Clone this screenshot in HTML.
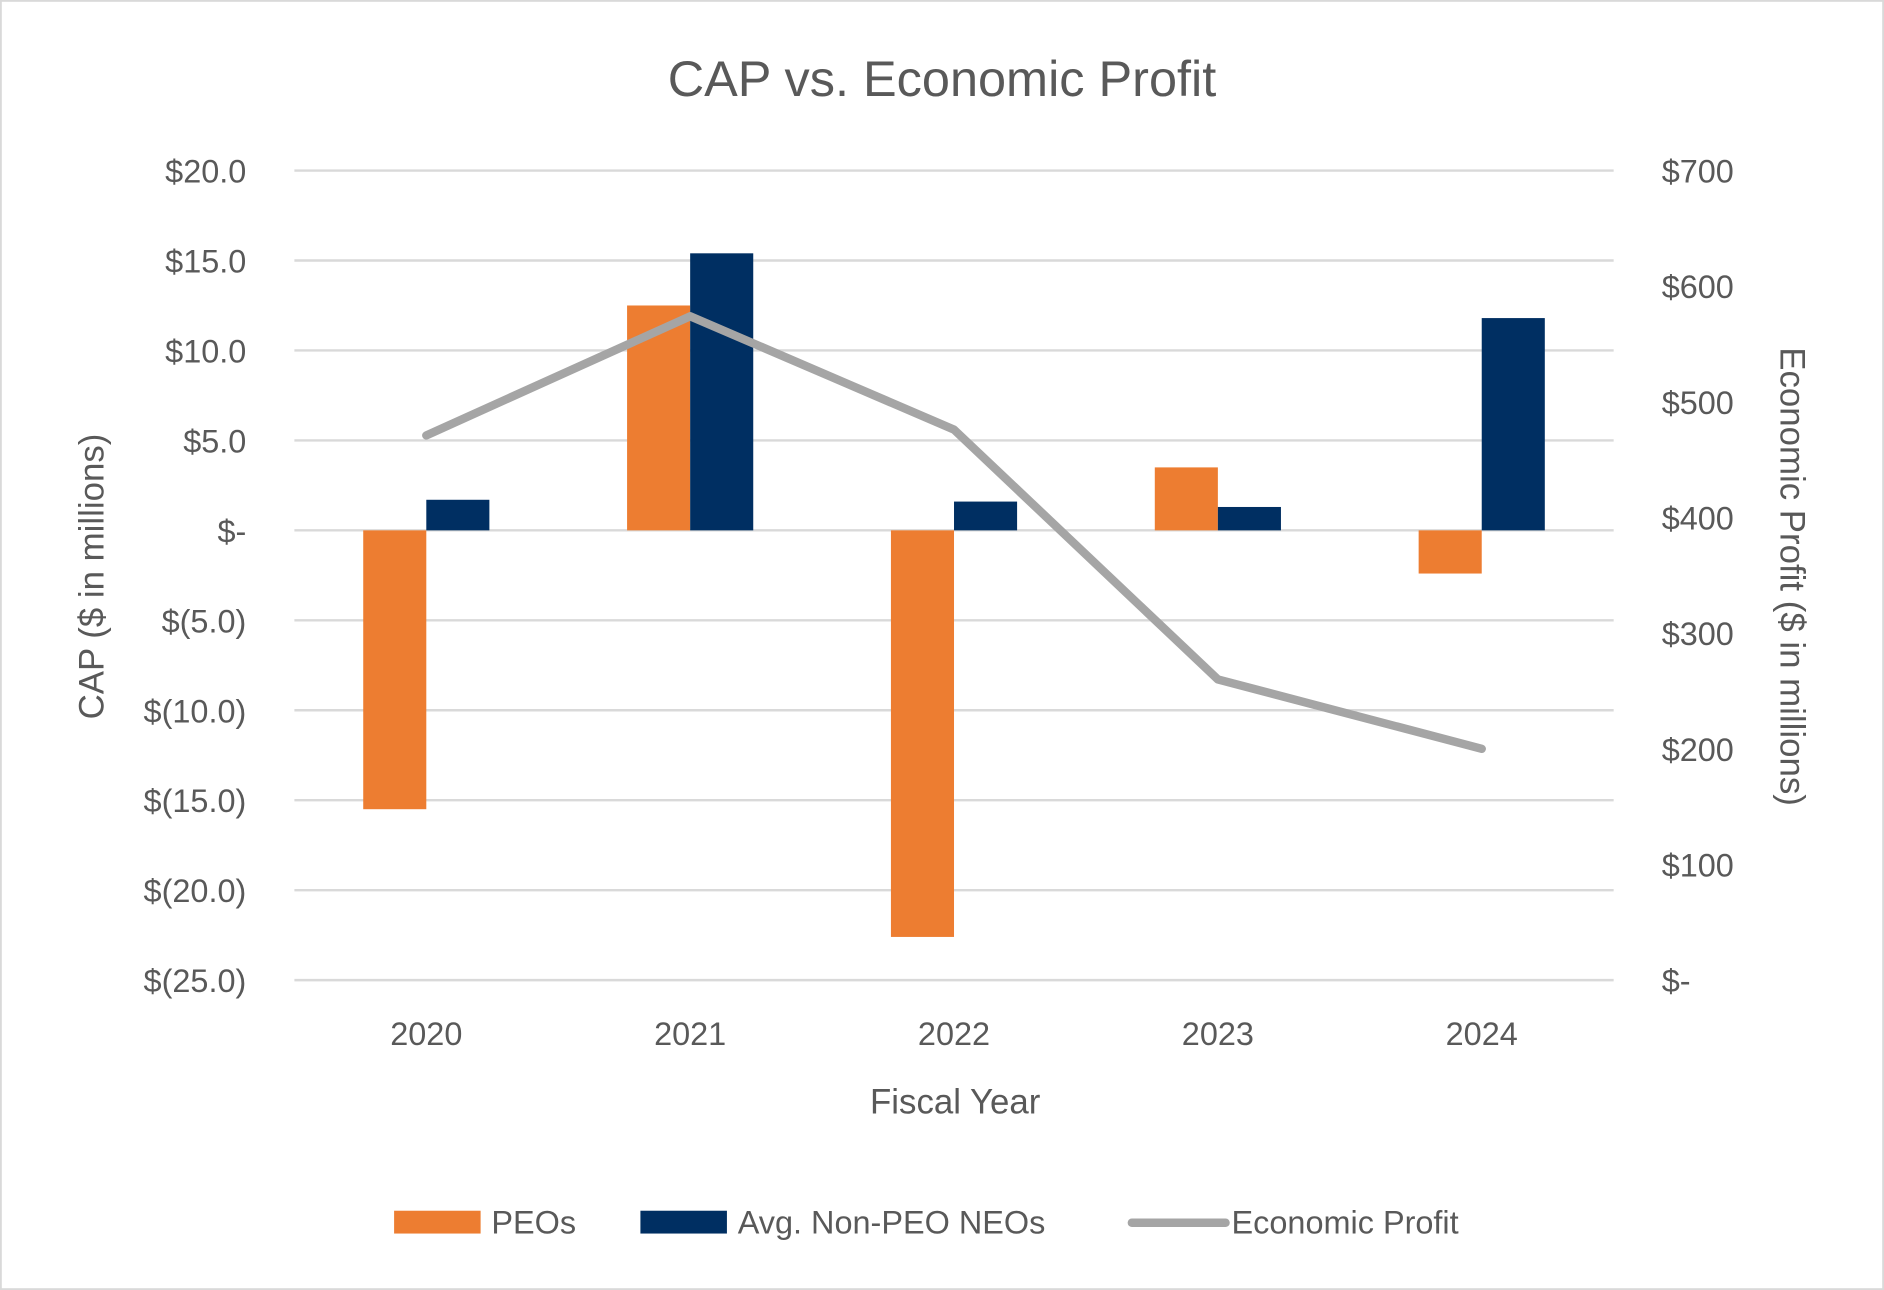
<!DOCTYPE html>
<html><head><meta charset="utf-8"><style>
html,body{margin:0;padding:0;background:#fff;}
svg{display:block;font-family:"Liberation Sans",sans-serif;}
</style></head><body>
<svg id="chart" width="1884" height="1290" viewBox="0 0 1568 1074" preserveAspectRatio="none" xmlns="http://www.w3.org/2000/svg">
<rect x="0.5" y="0.5" width="1567" height="1073" fill="#fff" stroke="#D9D9D9" stroke-width="2"/>
<text x="784" y="80" text-anchor="middle" font-size="42" fill="#595959">CAP vs. Economic Profit</text>
<g id="grid"></g><g id="bars"></g><g id="line"></g><g id="labels"></g>
<text transform="translate(86,480) rotate(-90)" text-anchor="middle" font-size="29" fill="#595959">CAP ($ in millions)</text>
<text transform="translate(1482,480) rotate(90)" text-anchor="middle" font-size="29" fill="#595959">Economic Profit ($ in millions)</text>
<text x="795" y="927" text-anchor="middle" font-size="29" fill="#595959">Fiscal Year</text>
<g>
<rect x="328" y="1008" width="72" height="19" fill="#ED7D31"/>
<text x="409" y="1027" font-size="27" fill="#595959">PEOs</text>
<rect x="533" y="1008" width="72" height="19" fill="#002F62"/>
<text x="614" y="1027" font-size="27" fill="#595959">Avg. Non-PEO NEOs</text>
<line x1="942" y1="1018" x2="1020" y2="1018" stroke="#A5A5A5" stroke-width="7" stroke-linecap="round"/>
<text x="1025" y="1027" font-size="27" fill="#595959">Economic Profit</text>
</g>
</svg>
<script>
const categories=["2020","2021","2022","2023","2024"];
const peoValues=[-15.5,12.5,-22.6,3.5,-2.4];
const neoValues=[1.7,15.4,1.6,1.3,11.8];
const econProfit=[471,574,476,260,200];
const leftTicks=[20,15,10,5,0,-5,-10,-15,-20,-25];
const leftTickLabels=["$20.0","$15.0","$10.0","$5.0","$-","$(5.0)","$(10.0)","$(15.0)","$(20.0)","$(25.0)"];
const rightTicks=[700,600,500,400,300,200,100,0];
const rightTickLabels=["$700","$600","$500","$400","$300","$200","$100","$-"];

const NS="http://www.w3.org/2000/svg";
const L=245,R=1343,T=142,B=816;
const yL=v=>T+(20-v)/45*(B-T);
const yR=v=>B-v/700*(B-T);
const bw=(R-L)/categories.length;
const xC=i=>L+bw*(i+0.5);
function mk(tag,attrs,parent){const e=document.createElementNS(NS,tag);for(const k in attrs)e.setAttribute(k,attrs[k]);document.getElementById(parent).appendChild(e);return e;}
leftTicks.forEach((t,i)=>{
 const g=mk('line',{x1:L,x2:R,y1:yL(t),y2:yL(t),stroke:'#D9D9D9','stroke-width':2},'grid');
 
 
 const tx=mk('text',{x:205,y:yL(t)+10,'text-anchor':'end','font-size':27,fill:'#595959'},'labels');
 tx.textContent=leftTickLabels[i];
 
 
});
rightTicks.forEach((t,i)=>{
 const tx=mk('text',{x:1383,y:yR(t)+10,'font-size':27,fill:'#595959'},'labels');
 tx.textContent=rightTickLabels[i];
 
 
});
const barW=52.5;
categories.forEach((c,i)=>{
 const x=xC(i);
 const p=peoValues[i], n=neoValues[i];
 const r1=mk('rect',{x:x-barW,y:Math.min(yL(p),yL(0)),width:barW,height:Math.abs(yL(p)-yL(0)),fill:'#ED7D31'},'bars');
 
 
 const r2=mk('rect',{x:x,y:Math.min(yL(n),yL(0)),width:barW,height:Math.abs(yL(n)-yL(0)),fill:'#002F62'},'bars');
 
 
 const tx=mk('text',{x:x,y:870,'text-anchor':'middle','font-size':27,fill:'#595959'},'labels');
 tx.textContent=c;
 
 
});
const pts=econProfit.map((v,i)=>xC(i)+','+yR(v)).join(' ');
const pl=mk('polyline',{points:pts,fill:'none',stroke:'#A5A5A5','stroke-width':7,'stroke-linecap':'round','stroke-linejoin':'round'},'line');


</script>
</body></html>
